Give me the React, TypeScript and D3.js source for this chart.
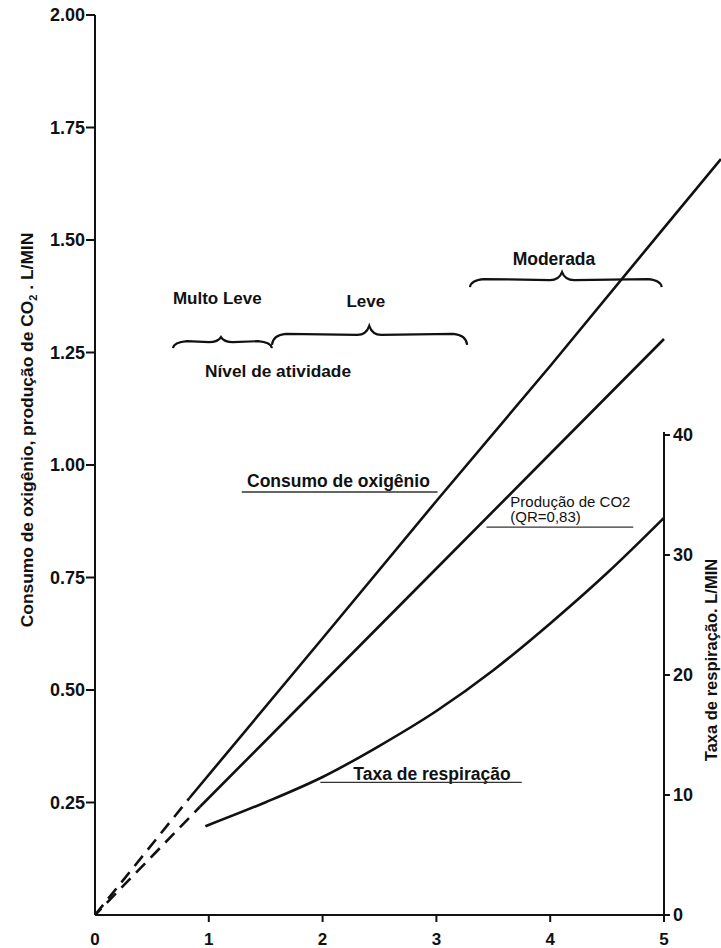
import React from "react";
import * as d3 from "d3";

// ---- data ----
const xTicks = [0, 1, 2, 3, 4, 5];
const leftTicks = [0.25, 0.5, 0.75, 1.0, 1.25, 1.5, 1.75, 2.0];
const rightTicks = [0, 10, 20, 30, 40];

// Consumo de oxigênio (L/min)
const o2DashX = [0, 0.83];
const o2DashY = [0, 0.26];
const o2X = [0.83, 2, 3, 4, 5, 5.5];
const o2Y = [0.26, 0.615, 0.92, 1.22, 1.527, 1.68];

// Produção de CO2 (L/min)
const co2DashX = [0, 0.92];
const co2DashY = [0, 0.24];
const co2X = [0.92, 2, 3, 4, 5];
const co2Y = [0.24, 0.515, 0.77, 1.025, 1.28];

// Taxa de respiração (L/min, right axis)
const respX = [0.97, 1.5, 2, 2.5, 3, 3.5, 4, 4.5, 5];
const respY = [7.4, 9.4, 11.5, 14.1, 17.0, 20.4, 24.3, 28.5, 33.1];

// activity-level braces (data units: x start, x end, tip x, level on left axis)
const braceNames = ["Multo Leve", "Leve", "Moderada"];
const braceStart = [0.685, 1.555, 3.295];
const braceEnd = [1.555, 3.27, 4.98];
const braceTip = [1.107, 2.41, 4.104];
const braceLevel = [1.273, 1.289, 1.411];

const W = 721;
const H = 948;
const FONT = "'Liberation Sans', Arial, Helvetica, sans-serif";

export default function App() {
  const x = d3.scaleLinear().domain([0, 5]).range([95, 664]);
  const yL = d3.scaleLinear().domain([0, 2]).range([915, 15]);
  const yR = d3.scaleLinear().domain([0, 40]).range([915, 435]);

  const lineL = d3
    .line<[number, number]>()
    .x((d) => x(d[0]))
    .y((d) => yL(d[1]));
  const lineR = d3
    .line<[number, number]>()
    .x((d) => x(d[0]))
    .y((d) => yR(d[1]))
    .curve(d3.curveMonotoneX);

  const zip = (a: number[], b: number[]) => a.map((v, i) => [v, b[i]] as [number, number]);

  const brace = (i: number, h: number, curl: number) => {
    const x1 = x(braceStart[i]);
    const x2 = x(braceEnd[i]);
    const t = x(braceTip[i]);
    const y = yL(braceLevel[i]);
    return `M${x1},${y + curl} Q${x1 + 1},${y} ${x1 + 14},${y - 1} L${t - 12},${y} Q${t - 3},${y} ${t},${y - h} Q${t + 3},${y} ${t + 12},${y} L${x2 - 14},${y - 1} Q${x2 - 1},${y} ${x2},${y + curl}`;
  };

  const bold = { fontFamily: FONT, fontWeight: 700, fill: "#111" } as const;

  return (
    <svg
      width={W}
      height={H}
      style={{ position: "absolute", left: 0, top: 0, background: "#fff" }}
    >
      <rect width={W} height={H} fill="#fff" />

      {/* axes */}
      <line x1={x(0)} x2={x(0)} y1={yL(2)} y2={yL(0)} stroke="#111" strokeWidth={2} />
      <line x1={x(0)} x2={x(5)} y1={yL(0)} y2={yL(0)} stroke="#111" strokeWidth={2} />
      <line x1={x(5)} x2={x(5)} y1={yR(40) - 3} y2={yR(0)} stroke="#111" strokeWidth={2} />

      {/* left ticks */}
      {leftTicks.map((t) => (
        <g key={"l" + t}>
          <line x1={x(0) - 9} x2={x(0)} y1={yL(t)} y2={yL(t)} stroke="#111" strokeWidth={2} />
          <text x={x(0) - 10} y={yL(t)} dy="0.36em" textAnchor="end" fontSize={18} {...bold}>
            {d3.format(".2f")(t)}
          </text>
        </g>
      ))}

      {/* bottom ticks */}
      {xTicks.map((t) => (
        <g key={"b" + t}>
          {t > 0 && (
            <line x1={x(t)} x2={x(t)} y1={yL(0)} y2={yL(0) + 7} stroke="#111" strokeWidth={2} />
          )}
          <text x={x(t)} y={945} textAnchor="middle" fontSize={17} {...bold}>
            {t}
          </text>
        </g>
      ))}

      {/* right ticks */}
      {rightTicks.map((t) => (
        <g key={"r" + t}>
          <line x1={x(5) - (t === 0 ? 5 : 0)} x2={x(5) + 6} y1={yR(t)} y2={yR(t)} stroke="#111" strokeWidth={2} />
          <text x={x(5) + 9} y={yR(t)} dy="0.36em" textAnchor="start" fontSize={18} {...bold}>
            {t}
          </text>
        </g>
      ))}

      {/* axis titles */}
      <text transform={`translate(33,430) rotate(-90)`} textAnchor="middle" fontSize={17.4} {...bold}>
        Consumo de oxigênio, produção de CO
        <tspan fontSize={11} dy={4}>2</tspan>
        <tspan dy={-4}> . L/MIN</tspan>
      </text>
      <text transform={`translate(717,660) rotate(-90)`} textAnchor="middle" fontSize={16.5} {...bold}>
        Taxa de respiração. L/MIN
      </text>

      {/* dashed extrapolations */}
      <path d={lineL(zip(o2DashX, o2DashY)) || ""} fill="none" stroke="#111" strokeWidth={2.6} strokeDasharray="13 8" />
      <path d={lineL(zip(co2DashX, co2DashY)) || ""} fill="none" stroke="#111" strokeWidth={2.6} strokeDasharray="13 8" strokeDashoffset={4} />

      {/* solid curves */}
      <path d={lineL(zip(o2X, o2Y)) || ""} fill="none" stroke="#111" strokeWidth={2.6} />
      <path d={lineL(zip(co2X, co2Y)) || ""} fill="none" stroke="#111" strokeWidth={2.6} />
      <path d={lineR(zip(respX, respY)) || ""} fill="none" stroke="#111" strokeWidth={2.6} />

      {/* braces */}
      <path d={brace(0, 5, 6)} fill="none" stroke="#111" strokeWidth={2.2} />
      <path d={brace(1, 9, 10)} fill="none" stroke="#111" strokeWidth={2.2} />
      <path d={brace(2, 8, 7)} fill="none" stroke="#111" strokeWidth={2.2} />

      <text x={x(0.685)} y={yL(1.358)} fontSize={17} {...bold}>{braceNames[0]}</text>
      <text x={x(2.21)} y={yL(1.351)} fontSize={17} {...bold}>{braceNames[1]}</text>
      <text x={x(3.67)} y={yL(1.444)} fontSize={17.5} {...bold}>{braceNames[2]}</text>
      <text x={x(0.967)} y={yL(1.196)} fontSize={17.3} {...bold}>Nível de atividade</text>

      {/* series labels */}
      <text x={x(1.336)} y={yL(0.951)} fontSize={17.5} {...bold}>Consumo de oxigênio</text>
      <line x1={x(1.29)} x2={x(3.01)} y1={yL(0.94)} y2={yL(0.94)} stroke="#333" strokeWidth={1.6} />

      <text x={x(3.65)} y={yL(0.907)} fontSize={15} fontFamily={FONT} fill="#111">Produção de CO2</text>
      <text x={x(3.65)} y={yL(0.873)} fontSize={15} fontFamily={FONT} fill="#111">(QR=0,83)</text>
      <line x1={x(3.44)} x2={x(4.73)} y1={yL(0.862)} y2={yL(0.862)} stroke="#333" strokeWidth={1.4} />

      <text x={x(2.27)} y={yR(11.25)} fontSize={17.5} {...bold}>Taxa de respiração</text>
      <line x1={x(1.98)} x2={x(3.75)} y1={yR(11.05)} y2={yR(11.05)} stroke="#333" strokeWidth={1.4} />
    </svg>
  );
}
